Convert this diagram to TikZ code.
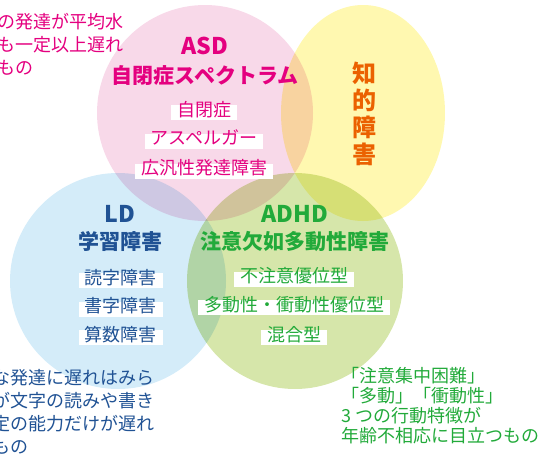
\documentclass[tikz,border=0pt]{standalone}
\usepackage{fontspec}
\setmainfont{Noto Sans CJK JP}
\usetikzlibrary{positioning}

\definecolor{asdpink}{RGB}{248,217,233}
\definecolor{idyellow}{RGB}{255,248,176}
\definecolor{ldblue}{RGB}{212,236,249}
\definecolor{adhdgreen}{RGB}{214,230,170}
\definecolor{asdtext}{RGB}{228,0,127}
\definecolor{idtext}{RGB}{235,97,0}
\definecolor{ldtext}{RGB}{32,82,148}
\definecolor{adhdtext}{RGB}{34,170,58}

\begin{document}
\begin{tikzpicture}[x=1pt,y=-1pt,on grid,node distance=28.5pt,
    em/.style={text height=0.88em,text depth=0.12em,inner sep=0pt},
    title/.style={em,font=\fontsize{23}{23}\selectfont\bfseries},
    subtitle/.style={em,font=\fontsize{21}{21}\selectfont\bfseries},
    item/.style={em,fill=white,inner xsep=6pt,inner ysep=2.5pt,font=\fontsize{18}{18}\selectfont},
    note/.style={inner sep=0pt,align=left,font=\fontsize{18}{23}\selectfont}]
  \useasboundingbox (0,0) rectangle (544,458);
  \begin{scope}[blend group=multiply]
    \fill[asdpink] (205,113) circle (108pt);
    \fill[idyellow] (363,113) ellipse [x radius=82pt, y radius=108pt];
    \fill[ldblue] (118,281) circle (108pt);
    \fill[adhdgreen] (295,281) circle (108pt);
  \end{scope}

  % ASD
  \node[title,text=asdtext] (asd) at (205,50.5) {ASD};
  \node[subtitle,text=asdtext] (asdname) at (205,80) {自閉症スペクトラム};
  \node[item,text=asdtext] (asd1) at (204,112.5) {自閉症};
  \node[item,text=asdtext,below=of asd1] (asd2) {アスペルガー};
  \node[item,text=asdtext,below=30pt of asd2] (asd3) {広汎性発達障害};

  % intellectual disability
  \node[inner sep=0pt,align=center,text=idtext,font=\fontsize{24}{27}\selectfont\bfseries]
    (id) at (364.5,114) {知\\的\\障\\害};

  % LD
  \node[title,text=ldtext] (ld) at (120,219) {LD};
  \node[subtitle,text=ldtext] (ldname) at (120,246) {学習障害};
  \node[item,text=ldtext] (ld1) at (120.5,280.5) {読字障害};
  \node[item,text=ldtext,below=of ld1] (ld2) {書字障害};
  \node[item,text=ldtext,below=of ld2] (ld3) {算数障害};

  % ADHD
  \node[title,text=adhdtext] (adhd) at (295,219) {ADHD};
  \node[subtitle,text=adhdtext] (adhdname) at (295,246) {注意欠如多動性障害};
  \node[item,text=adhdtext] (adhd1) at (294,279) {不注意優位型};
  \node[item,text=adhdtext,below=of adhd1] (adhd2) {多動性・衝動性優位型};
  \node[item,text=adhdtext,below=30pt of adhd2] (adhd3) {混合型};

  % notes
  \node[note,text=asdtext,anchor=west] (asdnote) at (-3,44) {の発達が平均水\\も一定以上遅れ\\もの};
  \node[note,text=ldtext,anchor=west] (ldnote) at (-8,411.5) {な発達に遅れはみら\\が文字の読みや書き\\定の能力だけが遅れ\\もの};
  \node[note,text=adhdtext,anchor=west,font=\fontsize{18}{20}\selectfont] (adhdnote) at (341,405.5)
    {「注意集中困難」\\「多動」「衝動性」\\3 つの行動特徴が\\年齢不相応に目立つもの};
\end{tikzpicture}
\end{document}
